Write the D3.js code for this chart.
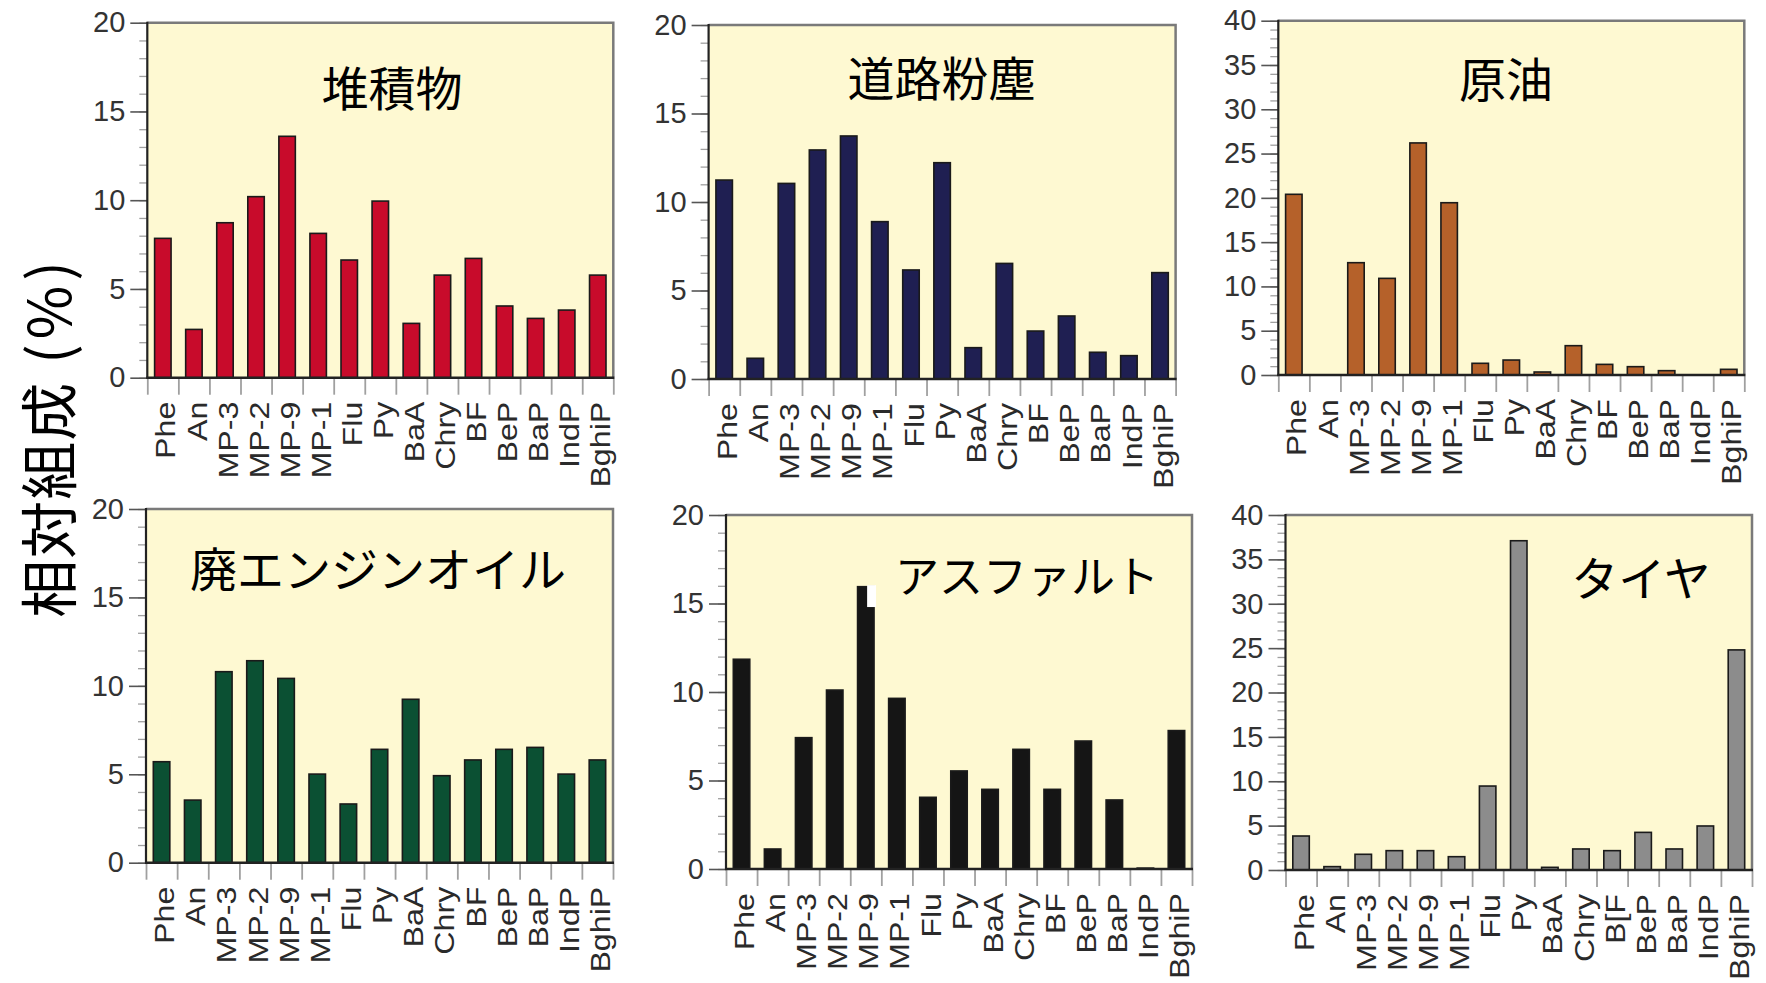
<!DOCTYPE html>
<html><head><meta charset="utf-8">
<script src="https://cdn.jsdelivr.net/npm/d3@7"></script>
<style>
body{margin:0;background:#fff;}
svg{display:block;}
</style></head>
<body>
<svg id="chart" width="1766" height="983"></svg>
<script>
// ---------- data ----------
const categories = ["Phe","An","MP-3","MP-2","MP-9","MP-1","Flu","Py","BaA","Chry","BF","BeP","BaP","IndP","BghiP"];
const tireCategories = ["Phe","An","MP-3","MP-2","MP-9","MP-1","Flu","Py","BaA","Chry","B[F","BeP","BaP","IndP","BghiP"];
const sediment  = [7.85,2.72,8.73,10.2,13.6,8.13,6.63,9.95,3.06,5.78,6.72,4.04,3.34,3.81,5.78];
const roadDust  = [11.24,1.17,11.05,12.94,13.73,8.89,6.16,12.22,1.77,6.53,2.71,3.56,1.51,1.32,6.01];
const crudeOil  = [20.4,0,12.68,10.91,26.2,19.45,1.32,1.69,0.34,3.31,1.2,0.94,0.49,0,0.64];
const wasteOil  = [5.71,3.54,10.8,11.42,10.42,5.01,3.32,6.41,9.24,4.92,5.81,6.41,6.52,5.01,5.81];
const asphalt   = [11.85,1.13,7.42,10.11,15.95,9.64,4.05,5.54,4.5,6.76,4.5,7.23,3.9,0.05,7.82];
const tire      = [3.83,0.38,1.77,2.18,2.18,1.5,9.46,37.1,0.3,2.37,2.18,4.24,2.37,4.96,24.8];
const panelTitles = ["堆積物","道路粉塵","原油","廃エンジンオイル","アスファルト","タイヤ"];
const yMaxes = [20,20,40,20,20,40];
const yMajorTicks20 = [0,5,10,15,20];
const yMajorTicks40 = [0,5,10,15,20,25,30,35,40];
const yAxisTitleMain = "相対組成";
const yAxisTitleUnit = " (%)";
// asphalt MP-9 bar has a notch in the original picture (value of notch bottom)
const asphaltNotch = {category:"MP-9", from:14.8};

// ---------- layout & style ----------
const panels = [
  {vals:sediment, cats:categories, color:"#c80b2b", left:147.3, width:466, top:22.7, y0:377.7, tx:392, ty:85, fs:47},
  {vals:roadDust, cats:categories, color:"#1f1f52", left:708.6, width:467, top:25,   y0:379,   tx:941.5, ty:75, fs:47},
  {vals:crudeOil, cats:categories, color:"#b5612a", left:1278.3,width:466, top:20.7, y0:375,   tx:1506, ty:76, fs:47},
  {vals:wasteOil, cats:categories, color:"#0b5033", left:146,   width:467, top:509,  y0:862.7, tx:378, ty:566, fs:47},
  {vals:asphalt,  cats:categories, color:"#151515", left:726,   width:466, top:515,  y0:869,   tx:1027, ty:574, fs:44},
  {vals:tire,     cats:tireCategories, color:"#8c8c8c", left:1285.5,width:466.5, top:515, y0:870, tx:1641, ty:575, fs:47}
];
const latin = "'Liberation Sans', Arial, Helvetica, sans-serif";
const cjk = "'Noto Sans CJK JP', 'Noto Sans CJK SC', sans-serif";

const svg = d3.select("#chart");

panels.forEach((p, i) => {
  const g = svg.append("g");
  const right = p.left + p.width;
  const x = d3.scaleBand().domain(p.cats).range([p.left, right]).paddingInner(0.47).paddingOuter(0.235);
  const y = d3.scaleLinear().domain([0, yMaxes[i]]).range([p.y0, p.top]);
  const xb = d3.scaleLinear().domain([0, p.cats.length]).range([p.left, right]);

  // background
  g.append("rect").attr("x", p.left).attr("y", p.top).attr("width", p.width).attr("height", p.y0 - p.top)
    .attr("fill", "#fef9d2");
  // top & right frame (gray)
  g.append("path").attr("d", `M${p.left},${p.top}H${right}V${p.y0}`)
    .attr("fill", "none").attr("stroke", "#7a7a7a").attr("stroke-width", 2.5);

  // bars
  g.selectAll("rect.bar").data(p.vals.map((v, k) => ({c: p.cats[k], v})).filter(d => d.v > 0))
    .join("rect").attr("class", "bar")
    .attr("x", d => x(d.c)).attr("width", x.bandwidth())
    .attr("y", d => y(d.v)).attr("height", d => y(0) - y(d.v))
    .attr("fill", p.color).attr("stroke", "#1a1a1a").attr("stroke-width", 1.6);

  if (i === 4) {
    const bx = x(asphaltNotch.category);
    const bw = x.bandwidth();
    const v = p.vals[p.cats.indexOf(asphaltNotch.category)];
    g.append("rect").attr("x", bx + bw * 0.58).attr("y", y(v) - 1.5)
      .attr("width", bw * 0.42 + 2).attr("height", y(asphaltNotch.from) - y(v) + 1.5)
      .attr("fill", "#ffffff");
  }

  // y minor ticks
  const yMinor = d3.axisLeft(y).tickValues(d3.range(0, yMaxes[i] + 1, 1)).tickSize(8).tickFormat("");
  const gm = g.append("g").attr("transform", `translate(${p.left},0)`).call(yMinor);
  gm.select(".domain").remove();
  gm.selectAll("line").attr("stroke", "#a0a0a0").attr("stroke-width", 1.3);

  // y major ticks
  const yMajor = d3.axisLeft(y).tickValues(yMaxes[i] === 40 ? yMajorTicks40 : yMajorTicks20).tickSize(17).tickPadding(5);
  const gy = g.append("g").attr("transform", `translate(${p.left},0)`).call(yMajor);
  gy.select(".domain").remove();
  gy.selectAll("line").attr("stroke", "#555").attr("stroke-width", 1.6);
  gy.selectAll("text").attr("font-family", latin).attr("font-size", 29).attr("fill", "#333");

  // x boundary ticks
  const xAxis = d3.axisBottom(xb).tickValues(d3.range(0, p.cats.length + 1)).tickSize(17).tickFormat("");
  const gx = g.append("g").attr("transform", `translate(0,${p.y0})`).call(xAxis);
  gx.select(".domain").remove();
  gx.selectAll("line").attr("stroke", "#a0a0a0").attr("stroke-width", 1.8);

  // x labels
  g.selectAll("text.xl").data(p.cats).join("text").attr("class", "xl")
    .attr("transform", d => `translate(${x(d) + x.bandwidth() / 2},${p.y0 + 24}) rotate(-90) scale(1.15,1)`)
    .attr("text-anchor", "end").attr("dy", "0.45em")
    .attr("font-family", latin).attr("font-size", 28).attr("fill", "#2a2a2a")
    .text(d => d);

  // axis lines (dark)
  g.append("line").attr("x1", p.left).attr("x2", p.left).attr("y1", p.top - 1).attr("y2", p.y0 + 1)
    .attr("stroke", "#222").attr("stroke-width", 2.2);
  g.append("line").attr("x1", p.left - 1).attr("x2", right + 1).attr("y1", p.y0).attr("y2", p.y0)
    .attr("stroke", "#222").attr("stroke-width", 2.4);

  // title
  g.append("text").attr("x", p.tx).attr("y", p.ty).attr("text-anchor", "middle")
    .attr("dominant-baseline", "central").attr("font-family", cjk).attr("font-size", p.fs)
    .attr("fill", "#000").text(panelTitles[i]);
});

// y axis title
const yt = svg.append("text").attr("transform", "translate(46,437) rotate(-90)")
  .attr("text-anchor", "middle").attr("dominant-baseline", "central")
  .attr("font-family", cjk).attr("font-size", 58).attr("fill", "#000");
yt.append("tspan").attr("letter-spacing", 1).text(yAxisTitleMain);
yt.append("tspan").attr("letter-spacing", 5).text(yAxisTitleUnit);
</script>
</body></html>
